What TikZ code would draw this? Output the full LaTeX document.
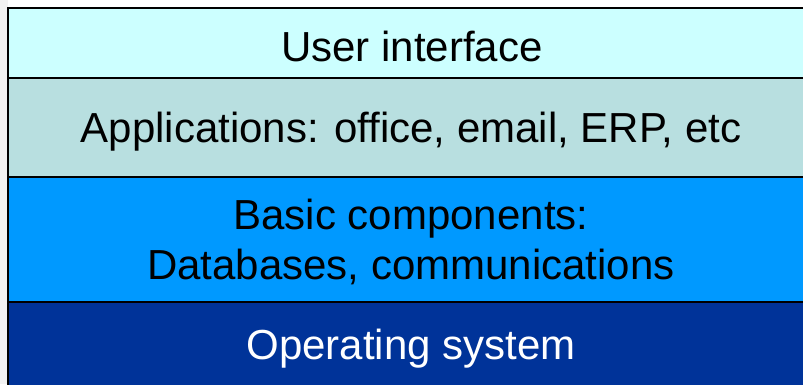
\documentclass[tikz,border=0pt]{standalone}
\usepackage{fontspec}
\setmainfont{Liberation Sans}
\definecolor{uicol}{HTML}{CCFFFF}
\definecolor{appcol}{HTML}{B8DFE0}
\definecolor{basecol}{HTML}{0099FF}
\definecolor{oscol}{HTML}{003399}
\definecolor{edgebg}{HTML}{F2F2F2}
\begin{document}
\begin{tikzpicture}[x=1pt,y=-1pt,
  layer/.style={draw=black, line width=2pt},
  lbl/.style={font=\fontsize{42}{50}\selectfont, align=center, inner sep=0pt}]
\useasboundingbox (0,0) rectangle (803,384);
\fill[edgebg] (0,0) rectangle (8,384);
% stacked layers, top to bottom
\filldraw[layer, fill=uicol]   (8,8)   rectangle (810,78);
\filldraw[layer, fill=appcol]  (8,78)  rectangle (810,177);
\filldraw[layer, fill=basecol] (8,177) rectangle (810,302);
\filldraw[layer, fill=oscol]   (8,302) rectangle (810,392);
\node[lbl] (ui)  at (412,46)  {User interface};
\node[lbl] (app) at (411,132) {Applications: office, email, ERP, etc};
\node[lbl] (bas) at (411,242) {Basic components:\\Databases, communications};
\node[lbl, text=white] (os) at (411,349) {Operating system};
\end{tikzpicture}
\end{document}
